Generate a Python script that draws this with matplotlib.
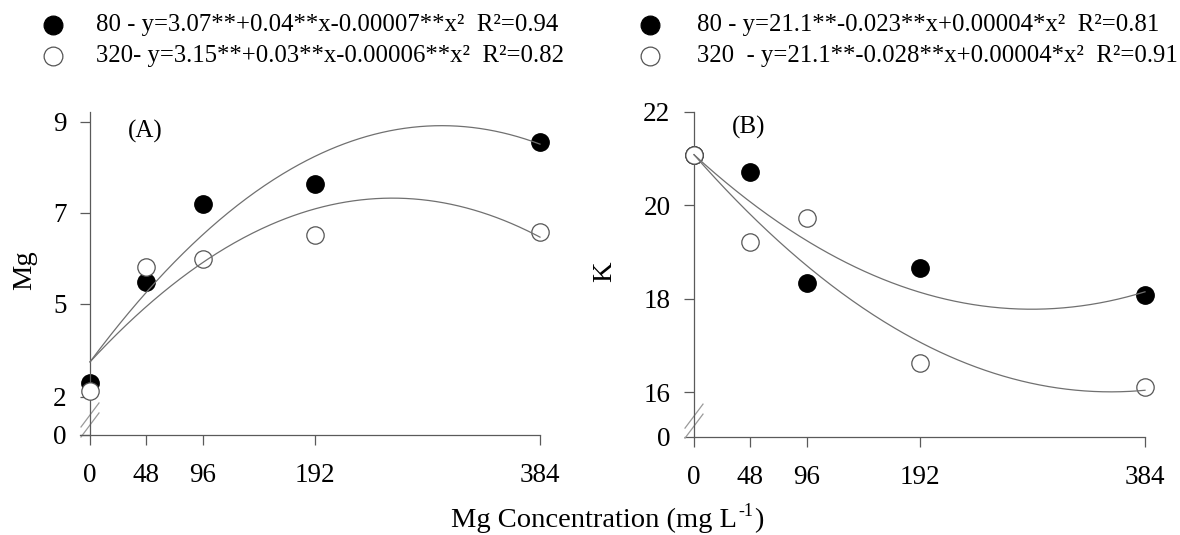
import matplotlib
matplotlib.use('Agg')
import matplotlib.pyplot as plt
from matplotlib.lines import Line2D
from matplotlib.transforms import IdentityTransform
import numpy as np

plt.rcParams['font.family'] = ['Liberation Serif', 'DejaVu Serif']

# doses of Mg (mg L-1)
doses = [0, 48, 96, 192, 384]

# panel A - Mg, read in the plotted units of the axis
mg_80 = [3.26, 5.48, 7.20, 7.64, 8.56]
mg_320 = [3.09, 5.81, 5.99, 6.52, 6.58]
mg_fit_80 = [3.725, 0.03457, -5.76e-5]     # c0, c1, c2 of the drawn curve
mg_fit_320 = [3.725, 0.02787, -5.40e-5]

# panel B - K
k_80 = [21.08, 20.72, 18.33, 18.66, 18.08]
k_320 = [21.08, 19.22, 19.72, 16.63, 16.10]
k_fit_80 = [21.08, -0.023, 4.0e-5]
k_fit_320 = [21.08, -0.0286, 4.03e-5]

mg_labels = ['80 - y=3.07**+0.04**x-0.00007**x²  R²=0.94',
             '320- y=3.15**+0.03**x-0.00006**x²  R²=0.82']
k_labels = ['80 - y=21.1**-0.023**x+0.00004*x²  R²=0.81',
            '320  - y=21.1**-0.028**x+0.00004*x²  R²=0.91']

W, H = 1180, 535
fig = plt.figure(figsize=(W / 100, H / 100), dpi=100)

line_col = '#5a5a5a'
curve_col = '#707070'


def px_axes(x0, x384, y_lo_px, y_hi_px, xlim):
    # axes rectangle from pixel positions of x=0 and x=384
    k = (x384 - x0) / 384.0
    left = x0 + xlim[0] * k
    right = x0 + xlim[1] * k
    return fig.add_axes([left / W, 1 - y_lo_px / H, (right - left) / W, (y_lo_px - y_hi_px) / H])


def panel(ax, y80, y320, fit80, fit320, ylim, spine_top, ticks, ticklabels, xstart, brk):
    xs = np.linspace(0, 384, 300)
    ax.plot(xs, np.polyval(fit80[::-1], xs), color=curve_col, lw=0.9, zorder=4)
    ax.plot(xs, np.polyval(fit320[::-1], xs), color=curve_col, lw=0.9, zorder=4)
    ax.plot(doses, y80, 'o', ms=12.5, mfc='black', mec='black', zorder=2)
    ax.plot(doses, y320, 'o', ms=12.5, mfc='white', mec='#555555', mew=0.9, zorder=3)

    ax.set_xlim(-12, 392)
    ax.set_ylim(*ylim)
    for s in ['top', 'right']:
        ax.spines[s].set_visible(False)
    ax.spines['left'].set_position(('data', 0))
    ax.spines['left'].set_bounds(ylim[0], spine_top)
    ax.spines['bottom'].set_bounds(xstart, 384)
    for s in ['left', 'bottom']:
        ax.spines[s].set_color(line_col)
        ax.spines[s].set_linewidth(0.9)

    ax.set_xticks(doses)
    ax.set_xticklabels([str(d) for d in doses])
    ax.set_yticks(ticks)
    ax.set_yticklabels(ticklabels)
    ax.tick_params(axis='both', direction='out', length=7, width=0.9, color=line_col,
                   labelsize=19.5, labelcolor='black')
    ax.tick_params(axis='x', pad=13)
    ax.tick_params(axis='y', pad=10)
    ax.patch.set_visible(False)

    # axis break marks
    bx, by = ax.transData.transform((0, brk))
    for dy in (-5, 5):
        ax.add_line(Line2D([bx - 9, bx + 9], [by - 12 + dy, by + 12 + dy],
                           transform=IdentityTransform(), color='#9a9a9a', lw=0.9, clip_on=False))


axA = px_axes(90, 540, 435, 108, (-12, 392))
panel(axA, mg_80, mg_320, mg_fit_80, mg_fit_320, (2.12, 9.3), 9.22,
      [2.12, 2.96, 5, 7, 9], ['0', '2', '5', '7', '9'], -8.5, 2.45)

axB = px_axes(694, 1145, 437, 107, (-12, 392))
panel(axB, k_80, k_320, k_fit_80, k_fit_320, (15.04, 22.1), 22.0,
      [15.04, 16, 18, 20, 22], ['0', '16', '18', '20', '22'], 0, 15.38)

fig.text(145 / W, 1 - 131 / H, '(A)', fontsize=18, ha='center', va='center')
fig.text(749 / W, 1 - 127 / H, '(B)', fontsize=18, ha='center', va='center')
fig.text(25 / W, 1 - 270 / H, 'Mg', fontsize=20.5, rotation=90, ha='center', va='center')
fig.text(605 / W, 1 - 272 / H, 'K', fontsize=20.5, rotation=90, ha='center', va='center')

# x label with a small raised "-1"
renderer = fig.canvas.get_renderer()
base_y = 1 - 527 / H
t1 = fig.text(451 / W, base_y, 'Mg Concentration (mg L', fontsize=20.5, ha='left', va='baseline')
x1 = t1.get_window_extent(renderer).x1
t2 = fig.text((x1 + 1) / W, base_y + 11 / H, '-1', fontsize=13, ha='left', va='baseline')
x2 = t2.get_window_extent(renderer).x1
fig.text((x2 + 1) / W, base_y, ')', fontsize=20.5, ha='left', va='baseline')

# legends
for cx, tx, labels in [(53, 96, mg_labels), (650, 697, k_labels)]:
    for row, (lab, fc) in enumerate(zip(labels, ['black', 'white'])):
        yy = 1 - (25 + 31 * row) / H
        fig.add_artist(Line2D([cx / W], [yy], marker='o', ms=13.5, mfc=fc,
                              mec='black' if fc == 'black' else '#555555', mew=0.9,
                              transform=fig.transFigure))
        fig.text(tx / W, yy, lab, fontsize=17.8, ha='left', va='center')

fig.savefig('out.png', dpi=100)
